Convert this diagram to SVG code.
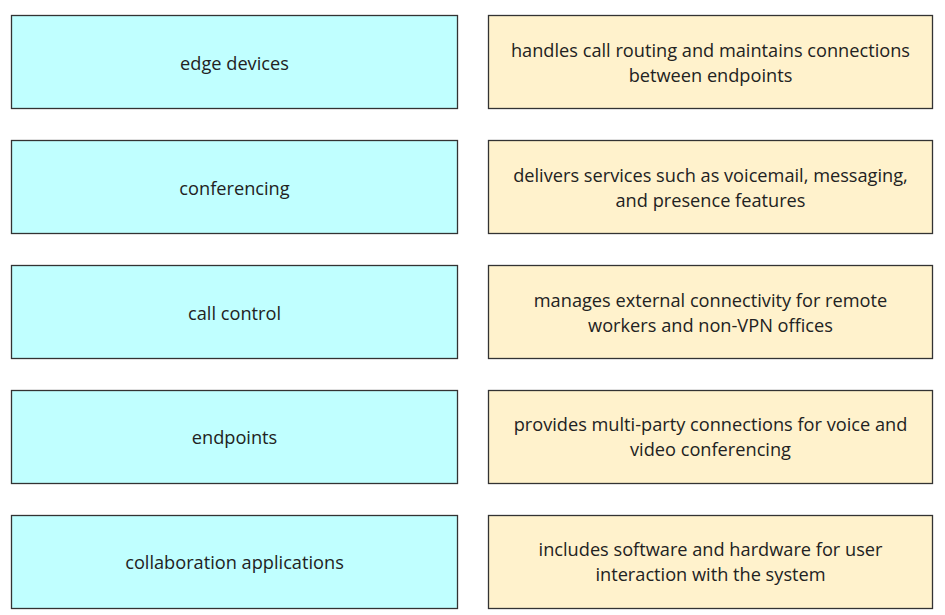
<svg xmlns="http://www.w3.org/2000/svg" width="945" height="615" viewBox="0 0 945 615">
<style>
.l{fill:#c0ffff;stroke:#333;stroke-width:1.3}
.r{fill:#fff2cc;stroke:#333;stroke-width:1.3}
text{font-family:"Open Sans","Liberation Sans",sans-serif;font-size:18.2px;fill:#222;text-anchor:middle}
</style>
<rect width="945" height="615" fill="#fff"/>
<g id="edge-devices"><rect class="l" x="11.5" y="15.5" width="446" height="93"/><text x="234.5" y="69.5">edge devices</text></g>
<g id="conferencing"><rect class="l" x="11.5" y="140.5" width="446" height="93"/><text x="234.5" y="194.5">conferencing</text></g>
<g id="call-control"><rect class="l" x="11.5" y="265.5" width="446" height="93"/><text x="234.5" y="319.5">call control</text></g>
<g id="endpoints"><rect class="l" x="11.5" y="390.5" width="446" height="93"/><text x="234.5" y="443.5">endpoints</text></g>
<g id="collab-apps"><rect class="l" x="11.5" y="515.5" width="446" height="93"/><text x="234.5" y="568.5">collaboration applications</text></g>
<g id="d1"><rect class="r" x="488.5" y="15.5" width="444" height="93"/><text x="710.5" y="57">handles call routing and maintains connections</text><text x="710.5" y="82">between endpoints</text></g>
<g id="d2"><rect class="r" x="488.5" y="140.5" width="444" height="93"/><text x="710.5" y="182">delivers services such as voicemail, messaging,</text><text x="710.5" y="207">and presence features</text></g>
<g id="d3"><rect class="r" x="488.5" y="265.5" width="444" height="93"/><text x="710.5" y="307">manages external connectivity for remote</text><text x="710.5" y="332">workers and non-VPN offices</text></g>
<g id="d4"><rect class="r" x="488.5" y="390.5" width="444" height="93"/><text x="710.5" y="431">provides multi-party connections for voice and</text><text x="710.5" y="456">video conferencing</text></g>
<g id="d5"><rect class="r" x="488.5" y="515.5" width="444" height="93"/><text x="710.5" y="556">includes software and hardware for user</text><text x="710.5" y="581">interaction with the system</text></g>
<g id="connectors"></g>
</svg>
